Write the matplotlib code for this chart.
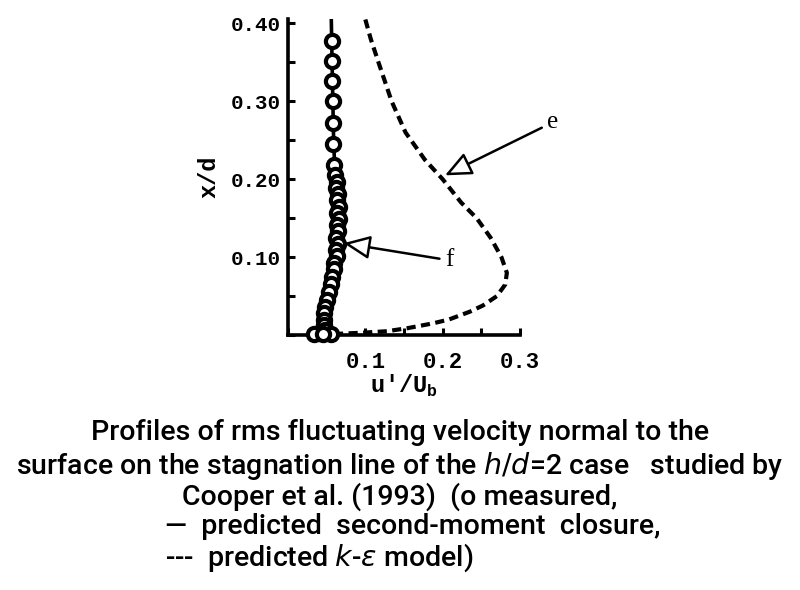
import numpy as np
import matplotlib
matplotlib.use("Agg")
import matplotlib.pyplot as plt
from matplotlib.ticker import MultipleLocator, FixedLocator


# measured u'/Ub (circles)
meas_u = [0.057, 0.057, 0.057, 0.058, 0.058, 0.058, 0.059,
          0.061, 0.064, 0.062, 0.065, 0.063, 0.066, 0.063, 0.066, 0.063,
          0.065, 0.062, 0.065, 0.062, 0.064, 0.060, 0.059, 0.057, 0.055,
          0.053, 0.050, 0.048, 0.047, 0.047, 0.047, 0.048, 0.040, 0.034,
          0.055, 0.045]
meas_x = [0.378, 0.352, 0.326, 0.300, 0.272, 0.245, 0.218,
          0.205, 0.197, 0.189, 0.181, 0.173, 0.165, 0.157, 0.149, 0.141,
          0.133, 0.125, 0.117, 0.109, 0.101, 0.093, 0.085, 0.075, 0.065,
          0.055, 0.045, 0.036, 0.028, 0.020, 0.013, 0.007, 0.003, 0.002,
          0.002, 0.001]

# second-moment closure (solid)
smc_u = [0.056, 0.057, 0.058, 0.059, 0.061, 0.063, 0.062, 0.060, 0.055,
         0.050, 0.047, 0.046, 0.050]
smc_x = [0.405, 0.35, 0.30, 0.25, 0.20, 0.15, 0.12, 0.09, 0.06,
         0.035, 0.015, 0.005, 0.0]

# k-epsilon model (dashed)
ke_u = [0.100, 0.107, 0.117, 0.134, 0.152, 0.177, 0.200, 0.224, 0.244,
        0.262, 0.276, 0.283, 0.281, 0.270, 0.252, 0.235, 0.208, 0.187,
        0.155, 0.128, 0.095, 0.072, 0.050]
ke_x = [0.405, 0.38, 0.35, 0.30, 0.26, 0.225, 0.20, 0.17, 0.15,
        0.125, 0.10, 0.08, 0.065, 0.05, 0.038, 0.03, 0.02, 0.015,
        0.009, 0.005, 0.003, 0.002, 0.001]

caption = [
    "Profiles of rms fluctuating velocity normal to the",
    "surface on the stagnation line of the $\\it{h/d}$=2 case   studied by",
    "Cooper et al. (1993)  (o measured,",
]
caption_left = [
    "\u2014  predicted  second-moment  closure,",
    "---  predicted $\\it{k}$-$\\it{\\varepsilon}$ model)",
]

MONO = dict(family="Liberation Mono", weight="bold")
CAP = ["Roboto", "Liberation Sans", "DejaVu Sans"]

fig = plt.figure(figsize=(8, 5.9), dpi=100)
ax = fig.add_axes([0.36, 0.432, 0.29, 0.535])

ax.plot(smc_u, smc_x, color="black", lw=2.6, zorder=2)
ax.plot(ke_u, ke_x, color="black", lw=3.0, ls=(0, (2.2, 1.3)), zorder=2)
ax.plot(meas_u, meas_x, ls="none", marker="o", ms=9.5, mfc="white",
        mec="black", mew=3.0, zorder=3, clip_on=False)

ax.set_xlim(0, 0.3)
ax.set_ylim(0, 0.405)
for s in ("top", "right"):
    ax.spines[s].set_visible(False)
for s in ("left", "bottom"):
    ax.spines[s].set_linewidth(2.6)

ax.xaxis.set_major_locator(FixedLocator([0.1, 0.2, 0.3]))
ax.xaxis.set_minor_locator(MultipleLocator(0.05))
ax.yaxis.set_major_locator(FixedLocator([0.1, 0.2, 0.3, 0.4]))
ax.yaxis.set_minor_locator(MultipleLocator(0.05))
ax.set_xticklabels(["0.1", "0.2", "0.3"], fontdict=MONO, fontsize=16)
ax.set_yticklabels(["0.10", "0.20", "0.30", "0.40"], fontdict=MONO, fontsize=15)
ax.tick_params(which="both", direction="in", width=2.2, length=5, pad=5)
ax.tick_params(axis="x", pad=12)

ax.set_xlabel("u'/U$_\\mathregular{b}$", fontdict=MONO, fontsize=17, labelpad=0)
ax.set_ylabel("x/d", fontdict=MONO, fontsize=17, labelpad=8)

arrow = dict(arrowstyle="-|>,head_length=0.9,head_width=0.4", fc="white",
             ec="black", lw=1.8, shrinkA=2, shrinkB=0)
ax.annotate("e", xy=(0.203, 0.205), xytext=(0.335, 0.273), fontsize=18,
            family="Liberation Serif", ha="left", va="center",
            arrowprops=arrow, annotation_clip=False)
ax.annotate("f", xy=(0.072, 0.118), xytext=(0.203, 0.096), fontsize=18,
            family="Liberation Serif", ha="left", va="center",
            arrowprops=arrow, annotation_clip=False)

ys = [433, 466, 497]
for t, y in zip(caption, ys):
    fig.text(0.5, 1 - y / 590, t, ha="center", va="center", fontsize=20.5,
             family=CAP, weight="medium")
for t, y in zip(caption_left, [527, 558]):
    fig.text(165 / 800, 1 - y / 590, t, ha="left", va="center", fontsize=20.5,
             family=CAP, weight="medium")

fig.savefig("out.png", dpi=100)
